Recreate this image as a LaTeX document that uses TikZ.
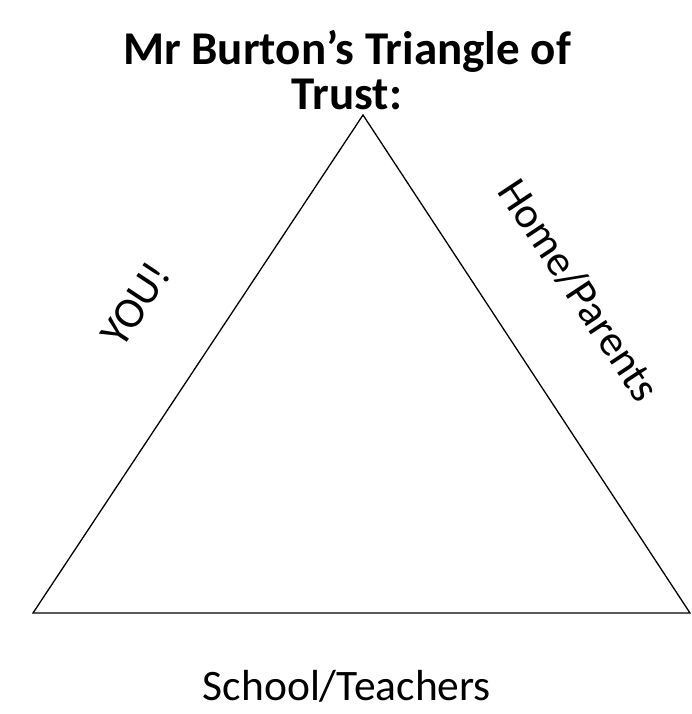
\documentclass[tikz,border=0pt]{standalone}
\usepackage{fontspec}
\setmainfont{Carlito}
\begin{document}
\begin{tikzpicture}[x=1pt, y=-1pt]
  \tikzset{
    label text/.style={font=\fontsize{43.5}{50}\selectfont, inner sep=0pt},
    title text/.style={font=\fontsize{47}{45}\selectfont\bfseries, align=center, inner sep=0pt}
  }
  \useasboundingbox (0,0) rectangle (692,714);
  % Corners of the triangle
  \coordinate (top) at (363,115);
  \coordinate (left) at (33,613);
  \coordinate (right) at (690,613);
  % The triangle
  \draw[line width=1.3pt, line join=miter] (left) -- (top) -- (right) -- cycle;
  % Title
  \node[title text] (title) at (347,70) {Mr Burton’s Triangle of\\Trust:};
  % Side labels
  \node[label text, rotate=56.5] (you) at (135,304) {YOU!};
  \node[label text, rotate=-56.5] (home) at (579,290) {Home/Parents};
  \node[label text] (school) at (347,686) {School/Teachers};
\end{tikzpicture}
\end{document}
